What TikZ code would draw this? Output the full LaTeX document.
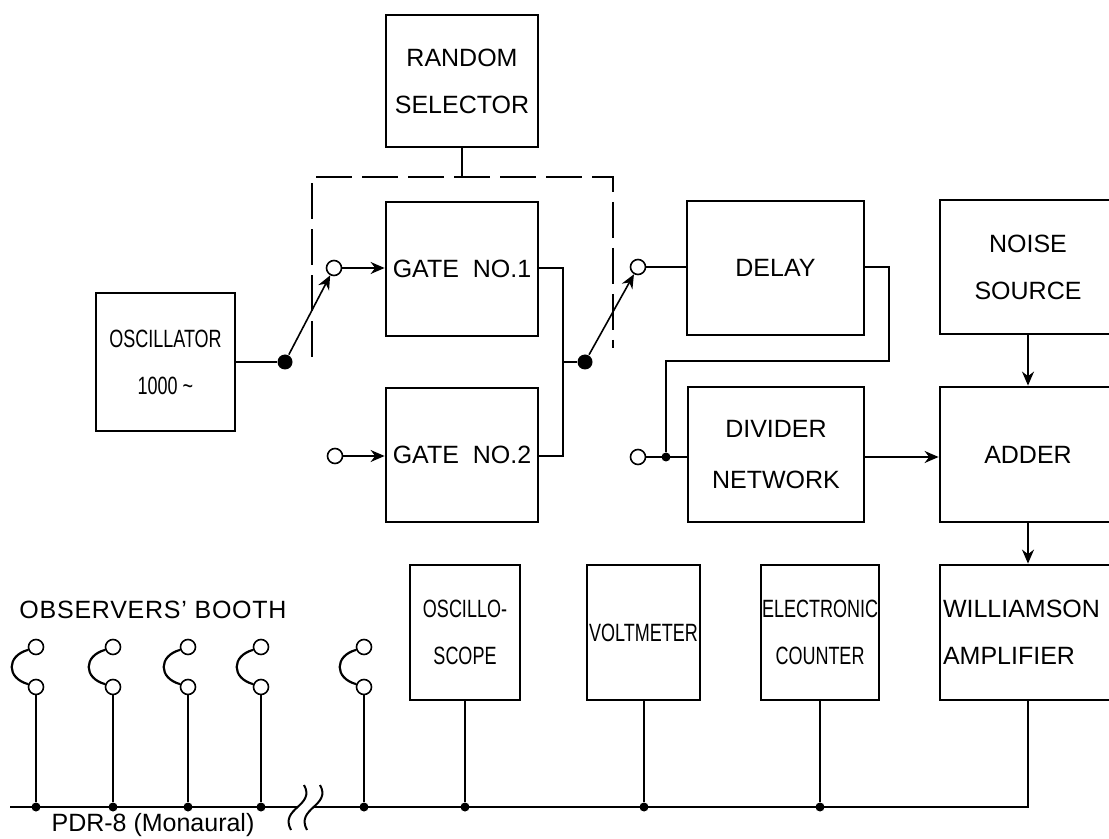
\documentclass[tikz,border=0pt]{standalone}
\usepackage{fontspec}
\setmainfont{Liberation Sans}
\newfontfamily\narrowfont{Liberation Sans}[FakeStretch=0.72]
\usetikzlibrary{arrows.meta}

\begin{document}
\begin{tikzpicture}[x=0.5pt,y=-0.5pt,>={Stealth[length=7pt,width=6pt]},thick,
    block node/.style={draw,line width=1.4pt,rectangle,align=center,inner sep=0.5pt,font=\fontsize{12.5}{23.5}\selectfont},
    narrow/.style={font=\narrowfont\fontsize{12.5}{23.5}\selectfont},
    port node/.style={circle,draw,thick,fill=white,inner sep=0pt,minimum size=7.5pt},
    pivot node/.style={circle,fill,inner sep=0pt,minimum size=7.5pt},
    dot node/.style={circle,fill,inner sep=0pt,minimum size=4.5pt}]
            \useasboundingbox (0,0) rectangle (1109,839);
            \clip (0,0) rectangle (1109,839);

            % blocks
            \node[block node,minimum width=76pt,minimum height=66pt] (1) at (462,81) {RANDOM\\SELECTOR};
            \node[block node,minimum width=76pt,minimum height=67pt] (2) at (462,269) {GATE\ \ NO.1};
            \node[block node,minimum width=76pt,minimum height=67pt] (3) at (462,455) {GATE\ \ NO.2};
            \node[block node,narrow,minimum width=69.5pt,minimum height=69pt] (4) at (165.5,362) {OSCILLATOR\\1000 \textasciitilde};
            \node[block node,minimum width=88.5pt,minimum height=67pt] (5) at (775.5,268) {DELAY};
            \node[block node,minimum width=88pt,minimum height=67.5pt] (6) at (776,454.5) {DIVIDER\\[2pt]NETWORK};
            \node[block node,minimum width=88pt,minimum height=67pt] (7) at (1028,267) {NOISE\\SOURCE};
            \node[block node,minimum width=88pt,minimum height=67.5pt] (8) at (1028,454.5) {ADDER};
            \node[block node,narrow,minimum width=55pt,minimum height=67.5pt] (9) at (465,632.5) {OSCILLO-\\SCOPE};
            \node[block node,narrow,minimum width=56.5pt,minimum height=67.5pt] (10) at (643.5,632.5) {VOLTMETER};
            \node[block node,narrow,minimum width=58pt,minimum height=67.5pt] (11) at (820,632.5) {ELECTRONIC\\COUNTER};
            \node[block node,minimum width=88pt,minimum height=67.5pt,text width=85pt,align=left] (12) at (1028,632.5) {WILLIAMSON\\AMPLIFIER};

            \node[font=\fontsize{12.5}{15}\selectfont\addfontfeatures{LetterSpace=3}] (13) at (153,610) {OBSERVERS' BOOTH};
            \node[font=\fontsize{12.5}{15}\selectfont] (14) at (153,825) {PDR-8 (Monaural)};

            % switches and terminals
            \node[pivot node] (p1) at (285,362) {};
            \node[port node] (c1) at (334,268) {};
            \node[port node] (c2) at (335,456) {};
            \node[pivot node] (p2) at (585,362) {};
            \node[port node] (c3) at (638,267) {};
            \node[port node] (c4) at (638,457) {};
            \node[dot node] (d1) at (666,457) {};
            \coordinate (j1) at (563,362);
            \coordinate (j2) at (889,361);
            \coordinate (k0) at (462,177);
            \coordinate (k1) at (312,357);
            \coordinate (k2) at (613,348);

            \draw (1) -- (k0);
            \draw[dash pattern=on 18pt off 5pt] (k1) |- (k0) -| (k2);

            \draw (4) -- (p1);
            \draw[->] (p1) -- (c1);
            \draw[->] (c1) -- (c1 -| 2.west);
            \draw[->] (c2) -- (c2 -| 3.west);
            \draw (c1 -| 2.east) -| (j1) |- (c2 -| 3.east);
            \draw (j1) -- (p2);
            \draw[->] (p2) -- (c3);
            \draw (c3) -- (c3 -| 5.west);
            \draw (c3 -| 5.east) -| (j2) -| (d1);
            \draw (c4) -- (c4 -| 6.west);
            \draw[->] (c4 -| 6.east) -- (c4 -| 8.west);
            \draw[->] (7) -- (8);
            \draw[->] (8) -- (12);

            % line to the booth
            \coordinate (b0) at (10,807);
            \coordinate (b1) at (298,807);
            \coordinate (b2) at (314,807);
            \draw (b0) -- (b1);
            \draw (12.south) |- (b2);
            \draw[line width=1pt] (291,830) .. controls (279,808) and (316,806) .. (304,785);
            \draw[line width=1pt] (307,830) .. controls (295,808) and (332,806) .. (320,785);

            \foreach \x [count=\i] in {36,113,188,261,364} {
                \node[port node] (t\i) at (\x,647) {};
                \node[port node] (h\i) at (\x,687) {};
                \node[dot node] (e\i) at (\x,807) {};
                \draw[line width=1.1pt] (t\i.200) .. controls +(-22,6) and +(-22,-6) .. (h\i.160);
                \draw (h\i) -- (e\i);
            }
            \foreach \n/\x in {9/465,10/644,11/820} {
                \node[dot node] (f\n) at (\x,807) {};
                \draw (\n.south -| f\n) -- (f\n);
            }
        \end{tikzpicture}
\end{document}
